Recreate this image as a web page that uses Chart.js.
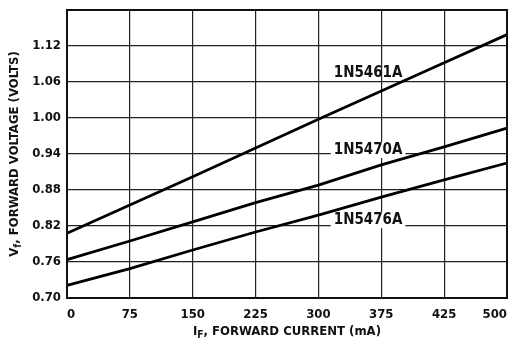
<!DOCTYPE html>
<html>
<head>
<meta charset="utf-8">
<script src="https://cdn.jsdelivr.net/npm/chart.js@4/dist/chart.umd.min.js"></script>
<style>
html,body{margin:0;padding:0;background:#fff;}
#wrap{width:517px;height:346px;}
</style>
</head>
<body>
<div id="wrap"><canvas id="c" width="517" height="346"></canvas></div>
<script>
// ---- data ----
const currentLabels = ['0', '75', '150', '225', '300', '375', '425', '500'];   // x tick labels (mA)
const voltageTicks = [0.70, 0.76, 0.82, 0.88, 0.94, 1.00, 1.06, 1.12];         // y tick labels (V)
const seriesNames = ['1N5461A', '1N5470A', '1N5476A'];
const vf1N5461A = [0.808, 0.855, 0.902, 0.950, 0.998, 1.045, 1.092, 1.139];
const vf1N5470A = [0.764, 0.795, 0.827, 0.859, 0.888, 0.922, 0.952, 0.983];
const vf1N5476A = [0.721, 0.749, 0.780, 0.810, 0.838, 0.868, 0.897, 0.925];
const yMin = 0.70, yMax = 1.18;

// curve-name annotations (category index, voltage)
const nameAnchorX = [4.79, 4.79, 4.79];
const nameAnchorY = [1.074, 0.9466, 0.8297];
const nameMasks = [false, true, true];

const FONT = '"DejaVu Sans Condensed", "DejaVu Sans", sans-serif';

const decor = {
  id: 'decor',
  beforeDatasetsDraw(chart) {
    const ctx = chart.ctx, xs = chart.scales.x, ys = chart.scales.y;
    ctx.save();
    ctx.font = 'bold 15px ' + FONT;
    ctx.textAlign = 'center';
    ctx.textBaseline = 'middle';
    for (let i = 0; i < seriesNames.length; i++) {
      const px = xs.getPixelForValue(nameAnchorX[i]);
      const py = ys.getPixelForValue(nameAnchorY[i]);
      const w = ctx.measureText(seriesNames[i]).width;
      if (nameMasks[i]) {
        ctx.fillStyle = '#fff';
        ctx.fillRect(px - w / 2 - 3, py - 8, w + 6, 16);
      }
      ctx.fillStyle = '#111';
      ctx.fillText(seriesNames[i], px, py);
    }
    ctx.restore();
  },
  afterDraw(chart) {
    const ctx = chart.ctx, a = chart.chartArea;
    ctx.save();
    ctx.strokeStyle = '#111';
    ctx.lineWidth = 2;
    ctx.strokeRect(a.left, a.top, a.right - a.left, a.bottom - a.top);

    ctx.fillStyle = '#111';
    ctx.textBaseline = 'alphabetic';
    const big = 'bold 13px ' + FONT, small = 'bold 10px ' + FONT;
    const partsX = [['I', big, 0], ['F', small, 3], [', FORWARD CURRENT (mA)', big, 0]];
    drawParts(ctx, partsX, (a.left + a.right) / 2, 335);
    ctx.translate(18, (a.top + a.bottom) / 2);
    ctx.rotate(-Math.PI / 2);
    const partsY = [['V', big, 0], ['f', small, 3], [', FORWARD VOLTAGE (VOLTS)', big, 0]];
    drawParts(ctx, partsY, 0, 0);
    ctx.restore();
  }
};

function drawParts(ctx, parts, cx, baseY) {
  let total = 0;
  for (const p of parts) { ctx.font = p[1]; total += ctx.measureText(p[0]).width; }
  let x = cx - total / 2;
  ctx.textAlign = 'left';
  for (const p of parts) {
    ctx.font = p[1];
    ctx.fillText(p[0], x, baseY + p[2]);
    x += ctx.measureText(p[0]).width;
  }
}

new Chart(document.getElementById('c'), {
  type: 'line',
  data: {
    labels: currentLabels,
    datasets: [
      { label: seriesNames[0], data: vf1N5461A },
      { label: seriesNames[1], data: vf1N5470A },
      { label: seriesNames[2], data: vf1N5476A }
    ].map(d => Object.assign(d, { borderColor: '#000', borderWidth: 2.8, pointRadius: 0, tension: 0, fill: false }))
  },
  options: {
    responsive: false,
    animation: false,
    layout: { padding: { top: 10, right: 10, left: 0, bottom: 0 } },
    plugins: { legend: { display: false }, tooltip: { enabled: false } },
    scales: {
      x: {
        type: 'category',
        offset: false,
        grid: { color: '#222', lineWidth: 1.2, drawTicks: false },
        border: { display: false },
        ticks: { color: '#111', font: { family: FONT, size: 13, weight: 'bold' }, padding: 9, maxRotation: 0, autoSkip: false, align: 'inner' },
        afterFit(s) { s.height = 48; s.paddingLeft = 0; s.paddingRight = 0; }
      },
      y: {
        min: yMin, max: yMax,
        grid: { color: '#222', lineWidth: 1.2, drawTicks: false },
        border: { display: false },
        afterBuildTicks(s) { s.ticks = voltageTicks.concat([yMax]).map(v => ({ value: v })); },
        ticks: {
          color: '#111', font: { family: FONT, size: 13, weight: 'bold' }, padding: 6,
          callback: v => (v > 1.15 ? '' : v.toFixed(2))
        },
        afterFit(s) { s.width = 67; s.paddingTop = 0; s.paddingBottom = 0; }
      }
    }
  },
  plugins: [decor]
});
</script>
</body>
</html>
